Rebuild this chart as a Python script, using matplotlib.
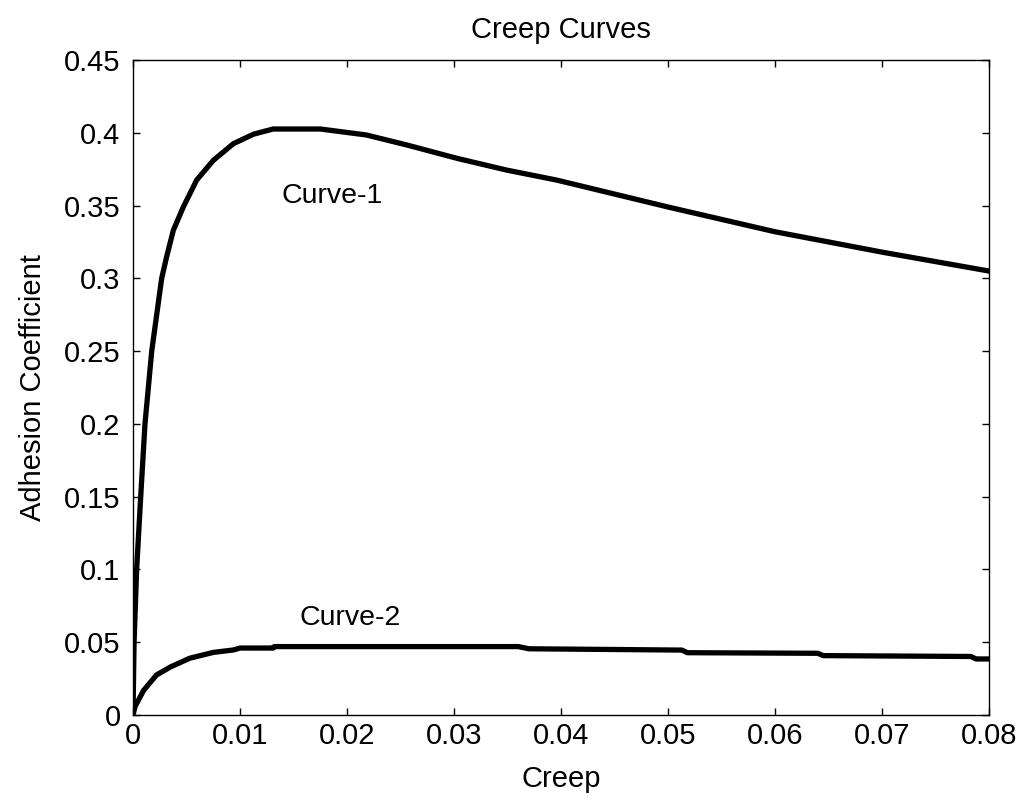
import matplotlib
matplotlib.use('Agg')
import matplotlib.pyplot as plt

plt.rcParams['font.family'] = ['Liberation Sans', 'DejaVu Sans']

# curve 1: adhesion coefficient vs creep
creep_1 = [0, 0.0001, 0.00034, 0.00072, 0.00112, 0.00175, 0.00268, 0.00315,
           0.00377, 0.0047, 0.00595, 0.0075, 0.00938, 0.01125, 0.0131, 0.0175,
           0.0218, 0.0256, 0.0303, 0.0349, 0.0396, 0.05, 0.06, 0.07, 0.08]
adhesion_1 = [0, 0.05, 0.10, 0.15, 0.20, 0.25, 0.30, 0.315,
              0.333, 0.349, 0.3675, 0.381, 0.3925, 0.399, 0.4026, 0.4026,
              0.3985, 0.3916, 0.3824, 0.3744, 0.3675, 0.349, 0.332, 0.318, 0.305]

# curve 2: low-adhesion case, slightly stepped plateau
creep_2 = [0, 0.0002, 0.001, 0.0022, 0.0035, 0.0053, 0.0075, 0.0094, 0.0100,
           0.0131, 0.0132, 0.036, 0.037, 0.0513, 0.0518, 0.064, 0.0645,
           0.0783, 0.0788, 0.08]
adhesion_2 = [0, 0.006, 0.017, 0.0275, 0.033, 0.039, 0.043, 0.0447, 0.046,
              0.046, 0.047, 0.047, 0.0455, 0.0446, 0.0428, 0.0424, 0.0408,
              0.0402, 0.0385, 0.0385]

x_ticks = [0, 0.01, 0.02, 0.03, 0.04, 0.05, 0.06, 0.07, 0.08]
x_tick_labels = ['0', '0.01', '0.02', '0.03', '0.04', '0.05', '0.06', '0.07', '0.08']
y_ticks = [0, 0.05, 0.1, 0.15, 0.2, 0.25, 0.3, 0.35, 0.4, 0.45]
y_tick_labels = ['0', '0.05', '0.1', '0.15', '0.2', '0.25', '0.3', '0.35', '0.4', '0.45']

fig = plt.figure(figsize=(10.28, 8.02), dpi=100)
ax = fig.add_axes([133 / 1028, 1 - 715 / 802, 856 / 1028, 655 / 802])

ax.plot(creep_1, adhesion_1, color='black', linewidth=3.8, solid_joinstyle='round')
ax.plot(creep_2, adhesion_2, color='black', linewidth=3.8, solid_joinstyle='round')

ax.text(0.0186, 0.3517, 'Curve-1', fontsize=20.5, ha='center', va='baseline')
ax.text(0.0203, 0.0618, 'Curve-2', fontsize=20.5, ha='center', va='baseline')

ax.set_xlim(0, 0.08)
ax.set_ylim(0, 0.45)
ax.set_xticks(x_ticks, x_tick_labels)
ax.set_yticks(y_ticks, y_tick_labels)
ax.tick_params(direction='in', top=True, right=True, length=5, width=1,
               labelsize=21)
ax.tick_params(axis='x', pad=5)
ax.tick_params(axis='y', pad=9)
for s in ax.spines.values():
    s.set_linewidth(1)

ax.set_title('Creep Curves', fontsize=21, pad=16)
ax.set_xlabel('Creep', fontsize=21, labelpad=11)
ax.set_ylabel('Adhesion Coefficient', fontsize=21, labelpad=12)

fig.savefig('out.png', dpi=100, facecolor='white')
